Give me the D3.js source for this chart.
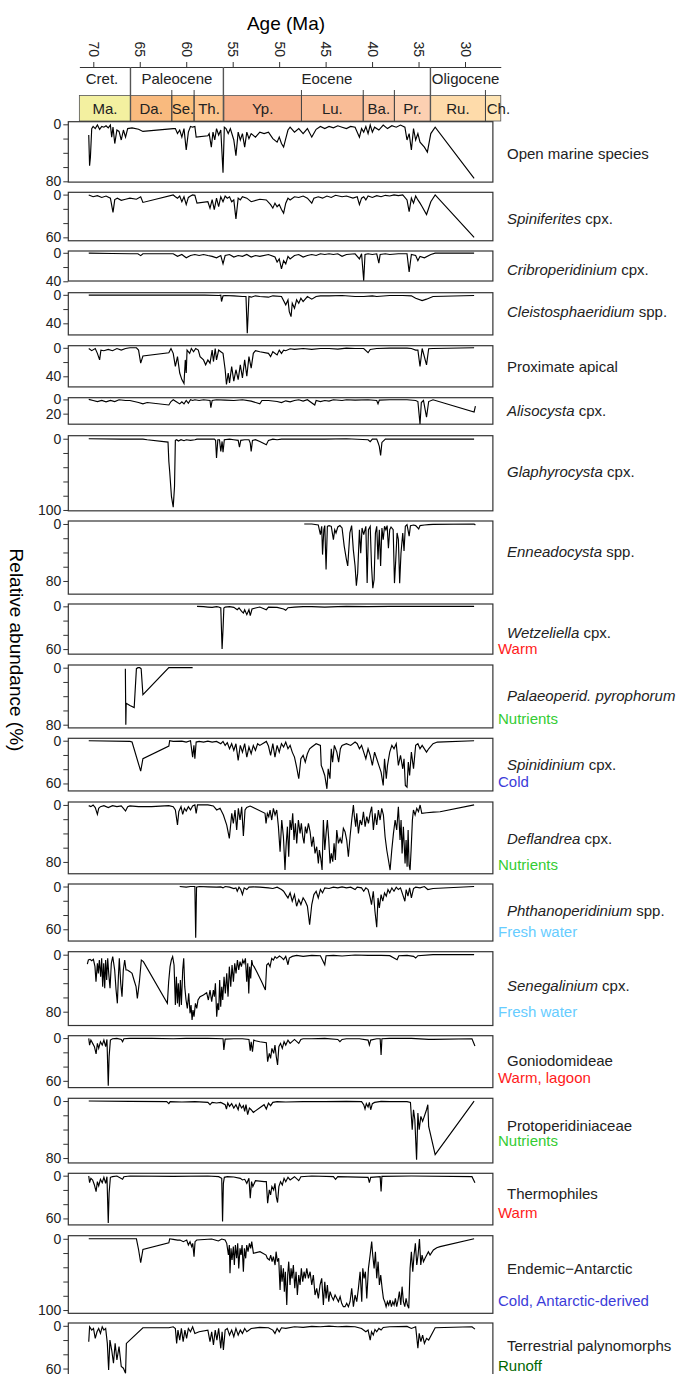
<!DOCTYPE html>
<html lang="en">
<head>
<meta charset="UTF-8">
<title>Dinocyst abundance</title>
<script src="https://cdn.jsdelivr.net/npm/d3@7"></script>
<style>
  body { margin: 0; background: #fff; }
  svg { font-family: "Liberation Sans", Arial, sans-serif; }
</style>
</head>
<body>
<script>
// ---- data: [age (Ma), relative abundance (%)] ----
var openMarine = [[70.49,15],[70.40,58],[70.31,46],[70.17,6],[70.02,3],[69.79,6],[69.56,1],[69.32,7],[69.09,3],[68.86,4],[68.63,2],[68.39,5],[68.16,1],[68.02,18],[67.88,4],[67.69,27],[67.46,8],[67.23,10],[66.99,22],[66.76,8],[66.53,18],[66.30,6],[65.83,5],[65.13,7],[64.66,10],[61.40,6],[61.17,6],[60.94,13],[60.70,8],[60.47,18],[60.24,6],[60.00,36],[59.77,11],[59.54,3],[59.31,4],[59.07,3],[58.93,18],[57.67,16],[57.53,13],[57.30,32],[57.12,11],[56.93,22],[56.74,6],[56.51,15],[56.28,8],[56.04,68],[55.90,4],[55.72,6],[55.48,13],[55.25,6],[54.88,22],[54.65,44],[54.41,11],[54.18,22],[53.95,13],[53.71,32],[53.48,11],[53.25,20],[53.01,13],[52.55,18],[52.08,11],[51.62,13],[51.15,11],[50.68,20],[50.22,25],[49.99,18],[49.75,27],[49.52,32],[49.29,20],[49.05,8],[48.82,4],[48.35,11],[47.89,6],[47.42,13],[46.96,6],[46.49,18],[46.02,7],[45.56,3],[45.09,6],[44.63,3],[44.16,5],[43.69,2],[43.23,4],[42.76,6],[42.30,3],[41.83,4],[41.36,18],[41.13,6],[40.90,11],[40.67,3],[40.43,13],[40.20,1],[39.97,11],[39.73,4],[39.27,8],[38.80,1],[38.34,6],[37.87,2],[37.40,4],[36.94,1],[36.47,4],[36.24,22],[36.01,13],[35.77,36],[35.54,6],[35.31,22],[35.07,13],[34.84,25],[34.37,32],[34.05,39],[33.68,13],[33.21,4],[29.02,76]];

var spiniferites = [[70.49,0.5],[70.02,3],[69.56,1.5],[69.09,4],[68.63,2],[68.16,5],[67.88,25],[67.69,7],[67.41,5],[66.99,8],[66.53,6.5],[66.06,5],[65.36,6.5],[64.90,3],[64.66,11],[61.40,0.5],[61.17,3],[60.94,5],[60.70,2],[60.47,10],[60.24,3],[60.00,14],[59.77,4],[59.54,2],[59.31,0.5],[59.07,1],[58.84,12],[57.67,10],[57.44,19],[57.21,7],[56.98,21],[56.74,5],[56.51,17],[56.28,3],[56.04,10],[55.81,2],[55.58,5],[55.34,3],[55.11,10],[54.88,7.5],[54.65,34],[54.41,5],[54.18,7.5],[53.95,3],[53.48,5],[53.01,10],[52.08,6.5],[51.38,7.5],[50.92,14],[50.68,19],[50.45,12],[50.22,17],[49.99,14],[49.75,21],[49.52,26],[49.29,12],[49.05,5],[48.82,7.5],[48.35,3],[47.89,4],[47.42,2],[46.96,5],[46.49,12],[46.26,5],[45.79,3],[45.33,5],[44.86,2],[44.39,4],[43.93,1],[43.23,3],[42.76,2],[42.06,5],[41.60,3],[41.36,14],[41.13,5],[40.90,3],[40.67,7.5],[40.43,2],[39.97,4],[39.50,1.5],[39.03,3],[38.57,1],[38.10,2],[37.64,0.5],[37.17,1.5],[36.70,0.5],[36.24,7.5],[36.01,24],[35.77,5],[35.54,12],[35.31,2],[35.07,7.5],[34.84,12],[34.61,17],[34.14,28],[33.68,10],[33.21,0.5],[29.02,60]];

var cribroperidinium = [[70.49,0.5],[68.0,1],[66.0,1.4],[65.2,1.4],[64.90,4],[64.66,1.4],[61.40,1.4],[60.94,5],[60.47,2.4],[60.00,7],[59.54,3.8],[59.07,2.4],[58.61,3.8],[58.14,2.4],[57.67,3.8],[57.21,5],[56.74,7],[56.28,3.8],[56.04,15.5],[55.81,3.8],[55.34,2.4],[54.88,6],[54.41,3.8],[53.95,5],[53.48,2.4],[53.01,6],[52.55,3.8],[52.08,5],[51.15,2.4],[50.45,6],[50.22,13],[49.99,8.5],[49.75,22.5],[49.52,11],[49.29,15.5],[49.05,5],[48.82,8.5],[48.35,3.8],[47.89,2.4],[47.42,6],[46.96,3.8],[46.49,2.4],[46.02,3.8],[45.56,1.4],[45.09,2.4],[44.63,1.4],[44.16,2.4],[43.69,1.4],[43.23,5],[42.76,2.4],[41.83,1.4],[41.36,8.5],[41.13,1.4],[40.90,39],[40.76,2.4],[40.43,1.4],[39.97,2.4],[39.50,1.4],[39.27,14.5],[39.13,2.4],[38.57,1.4],[38.10,2.4],[37.17,1.4],[36.24,1.4],[36.01,27],[35.77,2.4],[35.31,3.8],[35.07,11],[34.84,5],[34.37,7],[33.68,2.4],[33.21,0.5],[29.02,0.5]];

var cleistosphaeridium = [[70.49,0.5],[65.0,0.5],[61.4,0.5],[58.0,0.5],[56.5,1],[56.28,0.5],[56.20,9.4],[56.04,1.4],[55.81,1],[54.88,1.4],[53.95,2.4],[53.57,2.4],[53.43,54],[53.25,2.4],[53.01,3.3],[52.55,1.4],[52.08,2.4],[51.15,3.3],[50.68,1.4],[49.75,2.4],[49.29,14],[49.05,7],[48.91,23.5],[48.72,30.6],[48.59,11.8],[48.35,18.8],[48.12,7],[47.89,11.8],[47.66,4.7],[47.42,9.4],[46.96,2.4],[46.49,6.1],[46.02,2.4],[45.56,1.4],[44.63,1.4],[43.23,1],[41.83,2.4],[40.90,2.4],[39.97,1.4],[39.50,2.4],[38.10,1],[36.70,1],[35.77,1.4],[35.31,4.7],[34.61,8],[34.14,6.1],[33.44,2.4],[29.02,1]];

var proximateApical = [[70.49,1],[70.17,4],[69.79,1],[69.56,7.8],[69.32,17],[69.18,3.2],[68.86,4.1],[68.39,2.3],[67.93,4.1],[67.46,1],[66.99,3.2],[66.53,1],[66.06,0],[65.36,0],[65.13,3.2],[64.90,21.6],[64.66,11.5],[61.87,6.9],[61.64,1],[61.40,7.8],[61.17,26.2],[60.94,12.4],[60.70,35.4],[60.47,44.6],[60.24,50.1],[60.10,17],[60.00,35.4],[59.91,3.2],[59.63,7.8],[59.45,1],[59.21,5.5],[58.98,1],[58.70,3.2],[58.51,12.4],[58.14,17],[57.91,23.9],[57.67,17],[57.44,21.6],[57.21,3.2],[57.07,19.3],[56.88,1],[56.74,17],[56.51,3.2],[56.28,5.5],[56.04,7.8],[55.81,30.8],[55.67,51.5],[55.48,35.4],[55.34,49.2],[55.11,26.2],[54.88,46.9],[54.65,30.8],[54.41,44.6],[54.18,23.9],[53.95,42.3],[53.71,17],[53.48,40],[53.25,12.4],[53.01,28.5],[52.78,7.8],[52.55,4.1],[52.08,5.5],[51.15,7.8],[50.92,12.4],[50.68,5.5],[50.22,10],[49.99,3.2],[49.75,7.8],[49.52,3.2],[49.29,4.1],[48.82,1.4],[48.35,2.3],[47.42,1],[46.49,2.3],[45.56,1],[44.63,1],[43.69,1.8],[42.76,0.5],[41.83,1],[40.90,1],[40.43,6.9],[40.20,2.3],[39.50,1],[38.10,0.5],[36.24,0.5],[35.77,1],[35.31,3.2],[35.07,3.2],[34.84,26.2],[34.61,1],[34.14,23.9],[33.91,1.4],[33.44,1],[29.02,0]];

var alisocysta = [[70.49,0],[70.02,1.5],[69.56,3],[69.09,1.5],[68.63,3.4],[68.16,1.5],[67.69,3],[67.23,0.5],[66.53,1.5],[66.06,1.5],[65.60,3],[65.13,4.4],[64.66,6.3],[64.20,4.4],[61.87,7.8],[61.64,3],[61.40,0.5],[60.94,4.4],[60.70,6.3],[60.47,3.4],[60.24,6.3],[60.00,1.5],[59.77,5.4],[59.54,0.5],[59.31,1.5],[59.07,0.5],[58.61,1.5],[58.14,0.5],[57.44,1.5],[57.35,11.7],[57.21,1.5],[56.74,0.5],[55.81,1],[54.88,1.5],[53.95,0.5],[53.01,2.4],[52.08,6.3],[51.85,1.5],[51.15,1.5],[50.22,3],[49.75,4.4],[49.29,2],[48.82,3.4],[48.35,1.5],[47.89,0.5],[47.42,2.4],[46.96,0.5],[46.17,7.8],[46.02,1.5],[45.56,3],[45.09,1.5],[44.63,2.4],[44.16,0.5],[43.23,1.5],[42.76,0.5],[41.83,1],[40.43,0.5],[39.50,1.5],[39.36,6.3],[39.22,1],[38.10,0.5],[36.24,0.5],[35.31,1.5],[35.07,3],[34.84,34.6],[34.70,4.4],[34.47,1.5],[34.14,25],[33.91,3],[33.44,0.5],[29.02,17.6],[28.88,9.3]];

var glaphyrocysta = [[70.49,0],[67.0,0.5],[64.66,0.5],[64.20,1.4],[61.96,4.7],[61.87,32],[61.78,46],[61.59,81],[61.40,96],[61.26,67],[61.17,2.3],[61.03,1.4],[60.84,3.3],[60.56,1.4],[60.24,2.8],[60.00,1.4],[59.54,2.3],[59.07,1.4],[58.84,0.5],[58.14,0.5],[57.67,0.5],[56.98,0.5],[56.84,2.3],[56.74,27],[56.60,1.4],[56.42,1.4],[56.28,18],[56.14,3.8],[56.04,19],[55.90,1.4],[55.34,0.5],[54.88,1.4],[54.41,2.3],[54.27,11.7],[54.13,2.3],[53.71,1.4],[53.25,1.4],[53.11,6.1],[53.01,18],[52.87,2.3],[52.55,1.4],[52.08,3.8],[51.38,8.5],[51.15,2.3],[50.68,0.5],[50.22,1.4],[49.75,0.5],[47.42,0.5],[45.09,0.5],[42.76,0],[40.43,1.4],[40.20,4.2],[39.97,0.5],[39.50,0.5],[39.36,5.2],[39.22,10.8],[39.08,23.5],[38.94,5.2],[38.57,0.5],[36.24,0.5],[33.44,0.5],[29.02,0.5]];

var enneadocysta = [[47.30,0],[46.49,0],[45.79,1.4],[45.56,15],[45.42,3.3],[45.33,43],[45.19,8],[45.09,2.3],[44.95,64],[44.81,3.3],[44.63,2.3],[44.39,3.3],[44.16,22],[44.02,8],[43.88,12.6],[43.69,4.2],[43.46,2.3],[43.23,5.6],[43.00,31],[42.76,50],[42.62,59],[42.39,12.6],[42.20,2.3],[42.02,36],[41.83,59],[41.69,86.5],[41.55,69],[41.36,8],[41.22,41],[41.08,5.6],[40.90,15],[40.67,3.3],[40.53,83],[40.39,8],[40.20,3.3],[40.06,59],[39.92,90],[39.78,78],[39.64,12.6],[39.50,3.3],[39.36,50],[39.22,8],[39.08,59],[38.94,5.6],[38.80,22],[38.66,3.3],[38.52,8],[38.38,2.3],[38.24,34],[38.10,8],[37.96,4.2],[37.73,8],[37.59,83],[37.45,50],[37.31,12.6],[37.17,22],[37.03,83],[36.89,41],[36.70,12.6],[36.56,38],[36.42,3.3],[36.24,1],[36.01,17],[35.87,2.3],[35.54,1.4],[35.31,2.3],[34.98,7],[34.84,2.3],[34.37,1.4],[33.91,1],[33.44,0.5],[29.02,0],[28.88,1.4]];

var wetzeliella = [[58.84,0],[58.14,0.5],[57.67,1],[57.21,1.4],[56.74,0.5],[56.51,1],[56.28,2.3],[56.14,60],[56.04,32.6],[55.95,2.3],[55.81,1],[55.34,0.5],[54.88,1.4],[54.51,4.7],[54.32,2.3],[54.04,7],[53.85,9.3],[53.71,4.7],[53.48,11.6],[53.25,4.7],[53.11,13],[52.92,3.7],[52.55,2.3],[52.08,1],[51.38,4.7],[51.15,1],[50.22,1.4],[49.52,3.7],[49.29,5.6],[49.05,1.9],[48.35,1],[47.42,0.5],[46.49,0.5],[45.09,1],[43.69,0.5],[42.76,0],[40.43,0.5],[38.10,0],[33.44,0],[29.02,0]];

var palaeoperidinium = [[66.55,1.4],[66.50,80],[66.46,50],[66.06,53],[65.60,56],[65.36,1.4],[65.20,0],[65.00,0],[64.85,1.4],[64.66,38],[61.87,0],[61.40,0],[59.31,0]];

var spinidinium = [[70.49,0],[66.06,1],[65.83,1.9],[64.90,42.7],[64.66,25.3],[61.87,7.5],[61.78,0],[61.40,1],[60.47,0.5],[60.00,1.9],[59.54,0],[59.31,23],[59.17,6.6],[59.07,25.3],[58.93,1.9],[58.61,1],[58.14,1.9],[57.67,0.5],[57.21,1.9],[56.74,1],[56.28,4.2],[56.04,1],[55.81,6.6],[55.58,2.8],[55.34,11.3],[55.11,4.2],[54.88,13.6],[54.65,4.2],[54.41,27.7],[54.18,6.6],[53.95,16],[53.71,4.2],[53.48,23],[53.25,8.9],[53.01,18.3],[52.78,6.6],[52.55,13.6],[52.32,4.2],[52.08,6.6],[51.38,1],[51.15,7.5],[50.92,20.6],[50.68,4.2],[50.45,23],[50.22,6.6],[49.99,16],[49.75,4.2],[49.52,8.9],[49.29,1.9],[49.05,11.3],[48.82,6.6],[48.59,16],[48.35,23],[48.12,37],[47.89,53.4],[47.66,25.3],[47.42,20.6],[47.19,30],[46.96,18.3],[46.72,11.3],[46.49,8.9],[46.02,4.2],[45.56,6.6],[45.47,34.7],[45.33,39.4],[45.09,48.8],[44.86,67.5],[44.72,39.4],[44.53,53.4],[44.39,11.3],[44.25,30],[44.06,6.6],[43.79,16],[43.60,30],[43.41,11.3],[43.23,6.6],[42.76,4.2],[42.30,6.6],[41.83,1.9],[41.60,4.2],[41.36,11.3],[41.13,6.6],[40.90,16],[40.67,25.3],[40.43,11.3],[40.20,20.6],[39.97,34.7],[39.73,16],[39.50,25.3],[39.27,34.7],[39.03,44],[38.80,62.8],[38.66,25.3],[38.47,53.4],[38.34,34.7],[38.10,16],[37.87,6.6],[37.64,11.3],[37.40,4.2],[37.17,34.7],[36.94,20.6],[36.70,39.4],[36.56,25.3],[36.42,62.8],[36.24,65.2],[36.10,30],[35.96,48.8],[35.77,16],[35.54,39.4],[35.31,6.6],[35.07,4.2],[34.84,11.3],[34.61,6.6],[34.14,16],[33.91,11.3],[33.44,4.2],[32.98,1.9],[29.02,0]];

var deflandrea = [[70.49,1],[70.26,2.4],[70.02,0],[69.79,3.8],[69.56,13.2],[69.42,4.7],[69.23,2.4],[68.86,1],[68.39,3.8],[67.93,1],[67.46,2.4],[66.99,1.4],[66.76,4.7],[66.53,8.5],[66.30,2.4],[66.06,1.4],[65.13,2.4],[63.73,2.4],[61.87,1],[61.40,2.4],[61.17,7],[60.94,28.2],[60.80,9.4],[60.56,2.4],[60.38,13.2],[60.19,4.7],[60.00,8.5],[59.77,2.4],[59.54,7],[59.31,1.4],[59.07,0],[58.93,11.8],[58.79,0],[58.37,0],[57.67,0],[57.08,1.5],[56.72,7.1],[56.36,4.8],[56.0,14.2],[55.64,28.2],[55.36,46.9],[55.1,11.8],[54.93,25.9],[54.75,7.1],[54.57,35.2],[54.39,4.8],[54.21,21.2],[54.03,2.5],[53.85,43.6],[53.67,7.1],[53.49,3.4],[53.13,1.5],[52.95,2.5],[51.52,11.8],[51.41,25.9],[51.27,11.8],[51.12,16.5],[50.98,7.1],[50.8,21.2],[50.62,4.8],[50.44,14.2],[50.26,7.1],[50.08,30.5],[49.9,65.6],[49.72,21.2],[49.54,44.6],[49.37,91.4],[49.26,58.6],[49.11,30.5],[48.97,72.7],[48.83,21.2],[48.68,35.2],[48.54,11.8],[48.4,49.3],[48.25,25.9],[48.11,54],[47.93,21.2],[47.75,39.9],[47.61,25.9],[47.46,44.6],[47.32,54],[47.18,30.5],[47.03,39.9],[46.85,25.9],[46.67,37.6],[46.49,58.6],[46.32,44.6],[46.14,68],[45.96,58.6],[45.78,82],[45.67,63.3],[45.52,75],[45.38,91.4],[45.24,21.2],[45.09,63.3],[44.95,39.9],[44.81,21.2],[44.66,49.3],[44.52,82],[44.38,68],[44.23,79.7],[44.09,54],[43.95,77.3],[43.8,35.2],[43.62,54],[43.44,46.9],[43.27,54],[43.09,32.9],[42.91,37.6],[42.73,49.3],[42.55,72.7],[42.37,44.6],[42.19,21.2],[42.01,0.1],[41.9,16.5],[41.76,30.5],[41.65,11.8],[41.47,39.9],[41.29,21.2],[41.11,28.2],[40.93,9.5],[40.75,30.5],[40.57,16.5],[40.39,25.9],[40.21,11.8],[40.04,2.5],[39.86,35.2],[39.68,11.8],[39.5,28.2],[39.32,7.1],[39.14,21.2],[38.96,4.8],[38.78,14.2],[38.6,44.6],[38.42,63.3],[38.24,77.3],[38.06,91.4],[37.88,63.3],[37.7,39.9],[37.52,21.2],[37.35,35.2],[37.17,2.5],[36.99,49.3],[36.88,21.2],[36.77,68],[36.63,30.5],[36.45,82],[36.34,49.3],[36.23,86.7],[36.12,35.2],[36.02,84.4],[35.91,91.4],[35.8,63.3],[35.66,21.2],[35.55,7.1],[35.37,14.2],[35.19,4.8],[35.01,9.5],[34.83,0.1],[34.65,11.8],[34.12,10.9],[33.4,10],[32.68,9.5],[29.02,0]];

var phthanoperidinium = [[60.70,0],[60.00,0.9],[59.54,0],[59.07,0],[58.98,72],[58.89,0.9],[58.61,0],[57.67,0.5],[56.74,0.9],[56.28,0.5],[56.04,1.9],[55.81,0],[55.34,0.9],[54.88,2.8],[54.65,1.9],[54.51,6.6],[54.32,0.9],[54.13,4.2],[53.95,11.3],[53.76,1.9],[53.48,4.2],[53.25,0.9],[52.78,0.5],[52.08,0.9],[51.15,1.9],[50.68,2.8],[50.22,0.9],[49.75,4.2],[49.52,6.6],[49.29,11.3],[49.05,16],[48.82,8.9],[48.59,20.6],[48.35,11.3],[48.12,27.7],[47.89,18.3],[47.66,25.3],[47.42,16],[47.19,20.6],[46.96,27.7],[46.72,53.4],[46.49,25.3],[46.26,11.3],[46.02,6.6],[45.79,16],[45.56,4.2],[45.33,8.9],[45.09,1.9],[44.63,2.8],[44.16,0.9],[43.69,1.9],[43.23,0.5],[42.76,1.9],[42.30,0.9],[41.83,4.2],[41.60,0.9],[41.13,1.9],[40.90,6.6],[40.67,1.9],[40.43,4.2],[40.20,16],[40.06,25.3],[39.87,6.6],[39.69,34.7],[39.50,57.2],[39.36,16],[39.22,30],[39.03,11.3],[38.85,20.6],[38.66,8.9],[38.47,13.6],[38.29,4.2],[38.10,8.9],[37.87,1.9],[37.64,6.6],[37.40,0.9],[37.17,4.2],[36.94,1.9],[36.70,11.3],[36.47,20.6],[36.33,4.2],[36.14,13.6],[35.96,1.9],[35.77,16],[35.54,2.8],[35.31,0.9],[34.84,1.9],[34.37,0],[34.00,4.2],[33.44,2.8],[29.02,0]];

var senegalinium = [[70.64,13.1],[70.53,7.5],[70.35,6.5],[70.17,8.4],[69.99,6.5],[69.82,16.8],[69.71,37.9],[69.56,12.1],[69.46,26.2],[69.35,7.5],[69.21,30.9],[69.1,5.1],[68.99,44.9],[68.88,12.1],[68.77,47.2],[68.67,7.5],[68.56,35.5],[68.45,5.1],[68.34,26.2],[68.2,47.2],[68.06,12.1],[67.91,2.8],[67.7,21.5],[67.55,49.6],[67.41,68.3],[67.3,30.9],[67.2,5.1],[67.05,40.2],[66.91,58.9],[66.77,21.5],[66.62,7.5],[66.48,21.5],[66.33,21.5],[66.05,23.8],[65.83,26.2],[65.62,35.5],[65.4,44.9],[65.26,61.3],[65.04,37.9],[64.83,7.5],[64.61,9.8],[62.03,68.3],[61.89,37.9],[61.74,16.8],[61.6,7.5],[61.46,2.8],[61.31,14.5],[61.17,70.6],[61.06,30.9],[60.95,68.3],[60.85,40.2],[60.74,73],[60.63,35.5],[60.52,70.6],[60.38,21.5],[60.27,5.1],[60.16,44.9],[60.02,63.6],[59.88,75.3],[59.73,54.3],[59.59,82.3],[59.48,70.6],[59.37,91.7],[59.27,77.7],[59.16,87],[59.01,68.3],[58.87,75.3],[58.73,63.6],[58.51,58.9],[58.15,56.6],[57.8,53.3],[57.62,63.6],[57.44,49.6],[57.26,66],[57.08,49.6],[56.97,58.9],[56.86,40.2],[56.72,87],[56.61,68.3],[56.5,77.7],[56.4,35.5],[56.29,73],[56.18,44.9],[56.07,63.6],[55.93,30.9],[55.79,54.3],[55.64,26.2],[55.5,58.9],[55.36,16.8],[55.21,44.9],[55.07,14.5],[54.92,37.9],[54.78,12.1],[54.64,26.2],[54.49,7.5],[54.35,21.5],[54.21,9.8],[54.06,16.8],[53.92,7.5],[53.78,12.1],[53.63,5.1],[53.49,37.9],[53.38,12.1],[53.27,54.3],[53.17,16.8],[53.06,33.2],[52.95,7.5],[52.84,14.5],[52.7,16.8],[52.41,23.8],[51.88,37.9],[51.48,49.6],[51.34,14.5],[51.16,12.1],[50.98,16.8],[50.8,5.1],[50.62,7.5],[50.44,2.8],[50.26,5.1],[49.97,1.8],[49.75,3.8],[49.52,7],[49.29,2.4],[49.05,14.1],[48.91,4.7],[48.59,2.4],[48.12,0.9],[47.42,2.4],[46.49,0.9],[45.56,1.4],[45.09,14.1],[44.95,1.4],[44.16,0.9],[43.23,1.9],[41.83,0.5],[40.43,0.9],[39.03,0.9],[38.10,1.4],[37.31,7],[37.12,1.4],[36.24,0.9],[35.54,2.4],[35.31,4.7],[35.07,1.4],[33.44,0],[29.02,0]];

var goniodomideae = [[70.49,0.5],[70.40,9.8],[70.26,2.8],[70.07,7.4],[69.88,12.1],[69.70,22.3],[69.56,7.4],[69.42,14.4],[69.23,5.1],[69.04,9.8],[68.86,2.8],[68.67,12.1],[68.53,1.9],[68.39,67],[68.30,26],[68.16,2.8],[67.93,0.9],[67.46,0.5],[66.99,1.9],[66.85,5.1],[66.71,0.9],[66.06,0.5],[63.73,0.5],[61.40,0.9],[60.00,0.5],[57.67,0.5],[56.04,0.9],[55.95,16.7],[55.81,1.4],[54.88,0.9],[53.95,0.9],[53.25,1.9],[53.11,17.7],[53.01,5.1],[52.87,19.1],[52.73,2.8],[52.55,3.7],[52.08,5.1],[51.38,6.5],[51.24,33],[51.06,21.4],[50.92,28.4],[50.78,14.4],[50.59,21.4],[50.45,9.8],[50.31,26],[50.17,37.7],[50.03,12.1],[49.85,7.4],[49.66,14.4],[49.47,5.1],[49.29,9.8],[49.05,2.8],[48.82,7.4],[48.35,1.9],[47.89,7.4],[47.66,1.9],[47.42,0.9],[46.49,0.9],[45.09,0.5],[43.69,1.9],[43.46,5.1],[43.23,1.9],[42.76,0.9],[41.36,0.9],[40.43,2.8],[40.29,9.8],[40.15,2.8],[39.50,0.9],[39.13,0.9],[39.03,23.7],[38.94,0.9],[38.10,0.5],[35.77,0.5],[33.91,1.9],[33.44,1.9],[29.25,0.9],[28.93,11.2]];

var protoperidiniaceae = [[70.49,0],[66.06,0.5],[62.10,0.9],[61.87,3.7],[61.73,0.9],[60.47,1.4],[59.07,0.9],[57.67,1.9],[57.44,5.1],[57.21,1.9],[56.74,2.8],[56.28,1.9],[55.81,5.1],[55.67,11.2],[55.53,2.8],[55.34,7.5],[55.11,3.7],[54.88,9.8],[54.65,5.1],[54.41,12.2],[54.27,3.7],[54.04,9.8],[53.85,6.5],[53.71,14.5],[53.57,5.1],[53.39,19.2],[53.20,9.8],[53.01,12.2],[52.78,15.9],[51.62,5.1],[51.38,11.2],[51.15,2.8],[50.92,6.5],[50.68,1.9],[50.22,0.9],[49.29,1.4],[47.42,0.9],[45.09,0.9],[42.76,0.5],[41.13,0.9],[40.90,5.1],[40.76,11.2],[40.62,3.7],[40.43,8.4],[40.29,1.9],[40.15,12.2],[39.97,3.7],[39.73,1.9],[39.03,0.5],[38.10,0.9],[36.24,0.9],[35.87,1.9],[35.68,40.2],[35.54,12.2],[35.40,26.2],[35.21,82.3],[35.07,16.8],[34.93,40.2],[34.75,21.5],[34.56,28.5],[34.14,12.2],[34.00,5.1],[33.91,35.6],[33.21,75.3],[29.02,0]];

var thermophiles = [[70.49,0.5],[70.40,9.8],[70.26,3.7],[70.07,6],[69.88,13],[69.70,22.3],[69.56,8.4],[69.42,14.4],[69.23,5.1],[69.04,9.8],[68.86,2.3],[68.67,10.7],[68.53,1.4],[68.39,66.5],[68.30,24.7],[68.16,2.3],[67.93,1.4],[67.46,0.5],[66.85,5.1],[66.71,1.4],[66.06,0.5],[61.40,0.9],[57.67,0.5],[56.51,1.4],[56.18,3.7],[56.09,64.2],[56.00,10.7],[55.90,2.3],[55.58,1.4],[54.88,1.9],[54.18,3.7],[53.95,6],[53.71,5.1],[53.48,10.7],[53.25,3.7],[53.11,31.6],[52.97,8.4],[52.83,15.3],[52.55,7],[51.62,8.4],[51.38,8.4],[51.24,38.6],[51.06,20],[50.92,27],[50.78,15.3],[50.59,20],[50.45,10.7],[50.31,29.3],[50.17,37.7],[50.03,15.3],[49.85,8.4],[49.66,13],[49.47,3.7],[49.29,8.4],[49.05,2.3],[48.82,6],[48.35,1.4],[47.89,7],[47.66,1.4],[46.49,0.5],[44.16,1.4],[43.93,5.1],[43.69,1.4],[40.43,2.3],[40.29,9.8],[40.15,2.3],[39.13,1.4],[39.03,22.3],[38.94,0.9],[35.77,0.5],[29.25,1.4],[28.93,9.8]];

var endemicAntarctic = [[70.49,0],[66.06,0],[65.36,0],[65.13,15],[64.90,33.6],[64.66,15],[61.87,5.6],[61.78,0],[61.40,0.9],[60.94,1.9],[60.67,1.7],[60.31,4],[59.95,1.7],[59.77,8.7],[59.59,4],[59.41,11],[59.3,6.4],[59.16,25.1],[59.05,4],[58.87,1.7],[57.26,0.3],[56.9,1.7],[56.54,3.1],[56.18,0.3],[55.82,1.7],[55.64,6.4],[55.46,22.8],[55.36,8.7],[55.29,48.5],[55.18,13.4],[55.07,29.8],[54.93,11],[54.82,36.8],[54.71,8.7],[54.57,27.4],[54.46,6.4],[54.35,41.5],[54.21,13.4],[54.1,22.8],[53.99,8.7],[53.85,46.2],[53.74,13.4],[53.6,27.4],[53.49,8.7],[53.35,18.1],[53.2,6.4],[53.06,13.4],[52.95,4],[52.77,20.4],[52.06,18.1],[51.41,22.8],[51.27,27.4],[51.05,29.8],[50.91,22.8],[50.76,32.1],[50.62,25.1],[50.44,36.8],[50.33,18.1],[50.19,32.1],[50.05,27.4],[49.9,71.9],[49.8,36.8],[49.69,60.2],[49.54,41.5],[49.44,74.2],[49.33,46.2],[49.18,93],[49.08,50.8],[48.97,32.1],[48.83,64.9],[48.72,41.5],[48.61,55.5],[48.47,36.8],[48.32,69.5],[48.18,46.2],[48.04,78.9],[47.89,50.8],[47.75,64.9],[47.61,41.5],[47.46,60.2],[47.32,46.2],[47.18,55.5],[47.03,41.5],[46.85,55.5],[46.67,46.2],[46.49,64.9],[46.32,50.8],[46.14,78.9],[45.96,69.5],[45.78,83.6],[45.6,64.9],[45.42,55.5],[45.24,93],[45.09,60.2],[44.95,83.6],[44.81,64.9],[44.66,88.3],[44.52,74.2],[44.34,81.2],[44.16,85.9],[43.98,78.9],[43.8,83.6],[43.62,88.3],[43.44,81.2],[43.27,90.6],[43.09,95.3],[42.91,95.3],[42.73,90.6],[42.55,95.3],[42.37,88.3],[42.19,69.5],[42.01,95.3],[41.83,78.9],[41.65,88.3],[41.47,69.5],[41.29,46.2],[41.11,88.3],[41.0,41.5],[40.86,55.5],[40.72,46.2],[40.57,83.6],[40.39,41.5],[40.21,22.8],[40.04,4],[39.93,22.8],[39.78,41.5],[39.64,18.1],[39.5,55.5],[39.35,32.1],[39.21,64.9],[39.07,50.8],[38.92,69.5],[38.78,83.6],[38.64,88.3],[38.49,95.3],[38.35,88.3],[38.21,93],[38.06,85.9],[37.92,95.3],[37.77,88.3],[37.63,93],[37.49,83.6],[37.35,95.3],[37.2,85.9],[37.06,74.2],[36.91,93],[36.77,67.2],[36.63,88.3],[36.48,95.3],[36.34,83.6],[36.2,93],[36.05,97.6],[35.91,41.5],[35.77,18.1],[35.62,46.2],[35.48,22.8],[35.34,6.4],[35.19,36.8],[35.05,22.8],[34.9,0.3],[34.76,36.8],[34.62,22.8],[34.47,32.1],[34.3,27.4],[34.12,22.8],[33.94,18.1],[33.76,22.8],[33.4,15.7],[33.04,12.5],[32.68,11],[29.02,0]];

var terrestrial = [[70.49,22.3],[70.40,1.4],[70.17,6],[69.98,3.7],[69.79,17.7],[69.60,8.4],[69.42,3.7],[69.23,10.7],[69.04,1.4],[68.86,6],[68.67,3.7],[68.49,24.7],[68.35,62],[68.21,20],[68.02,34],[67.83,52.6],[67.65,24.7],[67.46,48],[67.23,29.3],[66.99,57.2],[66.76,59.5],[66.53,66.5],[66.44,24.7],[64.66,2.8],[61.87,2.8],[61.40,1.4],[61.17,3.7],[61.03,24.7],[60.89,6],[60.70,20],[60.52,3.7],[60.33,22.3],[60.14,6],[59.96,17.7],[59.77,3.7],[59.54,8.4],[59.31,1.4],[59.07,10.7],[58.61,8.4],[57.67,6],[57.44,22.3],[57.26,8.4],[57.07,27],[56.88,6],[56.70,20],[56.51,3.7],[56.28,31.6],[56.14,8.4],[56.00,34],[55.81,6],[55.58,3.7],[55.34,13],[55.11,6],[54.88,15.3],[54.65,3.7],[54.41,13],[54.18,6],[53.95,10.7],[53.71,3.7],[53.48,8.4],[53.01,3.7],[52.08,2.3],[51.15,2.8],[50.68,6],[50.45,10.7],[50.22,3.7],[49.99,8.4],[49.75,2.8],[49.29,3.7],[48.35,1.4],[47.42,2.3],[46.49,0.9],[45.56,1.4],[44.63,0.5],[43.69,1.4],[42.76,0.9],[41.83,1.4],[41.13,3.7],[40.67,8.4],[40.43,6],[40.20,20],[40.06,8.4],[39.87,13],[39.69,5.1],[39.50,8.4],[39.27,3.7],[39.03,6],[38.80,2.3],[38.10,1.4],[36.24,0.9],[35.77,3.7],[35.31,1.4],[35.07,31.6],[34.93,10.7],[34.75,22.3],[34.56,13],[34.37,24.7],[34.14,17.7],[33.91,20],[33.21,2.8],[29.25,1.4],[28.93,4.7]];

var seriesList = [openMarine, spiniferites, cribroperidinium, cleistosphaeridium, proximateApical, alisocysta, glaphyrocysta, enneadocysta, wetzeliella, palaeoperidinium, spinidinium, deflandrea, phthanoperidinium, senegalinium, goniodomideae, protoperidiniaceae, thermophiles, endemicAntarctic, terrestrial];

// label: [italic part, plain part]
var speciesNames = [["", "Open marine species"], ["Spiniferites", " cpx."], ["Cribroperidinium", " cpx."], ["Cleistosphaeridium", " spp."], ["", "Proximate apical"], ["Alisocysta", " cpx."], ["Glaphyrocysta", " cpx."], ["Enneadocysta", " spp."], ["Wetzeliella", " cpx."], ["Palaeoperid. pyrophorum", ""], ["Spinidinium", " cpx."], ["Deflandrea", " cpx."], ["Phthanoperidinium", " spp."], ["Senegalinium", " cpx."], ["", "Goniodomideae"], ["", "Protoperidiniaceae"], ["", "Thermophiles"], ["", "Endemic\u2212Antarctic"], ["", "Terrestrial palynomorphs"]];
var groupNames = ["", "", "", "", "", "", "", "", "Warm", "Nutrients", "Cold", "Nutrients", "Fresh water", "Fresh water", "Warm, lagoon", "Nutrients", "Warm", "Cold, Antarctic-derived", "Runoff"];
var groupColors = {"Warm": "#ff1a1a", "Warm, lagoon": "#ff1a1a", "Nutrients": "#33cc33", "Cold": "#3b3bd9", "Cold, Antarctic-derived": "#3b3bd9", "Fresh water": "#66ccff", "Runoff": "#006600"};

// y-axis extents (%) and top labelled tick of each panel
var panelMax = [81.1, 64.8, 39.6, 56.3, 54.9, 34.8, 101.2, 98.5, 67.1, 84.5, 70.5, 96.6, 76.5, 99.4, 69.5, 86.9, 69.1, 104.6, 90];
var tickMax = [80, 60, 40, 40, 40, 20, 100, 80, 60, 80, 60, 80, 60, 80, 60, 80, 60, 100, 60];

var ageTicks = [70, 65, 60, 55, 50, 45, 40, 35, 30];
var epochs = [["Cret.", 72.1, 66.0], ["Paleocene", 66.0, 56.0], ["Eocene", 56.0, 33.72], ["Oligocene", 33.72, 23.0]];
var stages = [["Ma.", 72.1, 66.0, "#f3f0a0"], ["Da.", 66.0, 61.55, "#f9ba7e"], ["Se.", 61.55, 59.15, "#fcc07c"], ["Th.", 59.15, 55.95, "#fdc58e"], ["Yp.", 55.95, 47.6, "#f7b08a"], ["Lu.", 47.6, 40.95, "#f9bc96"], ["Ba.", 40.95, 37.6, "#fac6a5"], ["Pr.", 37.6, 33.72, "#fcd0b2"], ["Ru.", 33.72, 27.8, "#fedbaa"], ["Ch.", 27.8, 23.0, "#fee4b4"]];

// ---- layout ----
var width = 677, height = 1374;
var panelTop = [121.7, 192.3, 251, 292.7, 345.7, 397.7, 435.7, 521, 604, 665, 738.3, 802, 884, 951.7, 1035.7, 1098.3, 1173.3, 1235.7, 1323];
var speciesY = [154, 219, 270, 312, 367, 411, 472, 552, 633, 696, 765, 839, 911, 986, 1060.5, 1126, 1194, 1269, 1346];
var groupY = [0, 0, 0, 0, 0, 0, 0, 0, 649, 719, 782, 865, 932, 1012, 1077.5, 1141, 1213, 1301, 1366];
var pxPerPct = 0.7125;
var ageMin = 26.15, ageMaxAxis = 71.5;

var x = d3.scaleLinear().domain([70, 30]).range([93.3, 465]);
var boxLeft = x(72.69), boxRight = x(27.0);

var svg = d3.select("body").append("svg")
    .attr("width", width)
    .attr("height", height);

// title
svg.append("text")
    .attr("x", 286).attr("y", 30)
    .attr("text-anchor", "middle")
    .style("font-size", "19px")
    .text("Age (Ma)");

// top age axis
var xa = d3.scaleLinear().domain([ageMaxAxis, ageMin]).range([x(ageMaxAxis), x(ageMin)]);
var topAxis = svg.append("g")
    .attr("transform", "translate(0,67)")
    .call(d3.axisTop(xa).tickValues(ageTicks).tickSize(5).tickSizeOuter(0).tickFormat(d3.format("d")));
topAxis.selectAll("text")
    .attr("transform", "rotate(90)")
    .attr("x", -10).attr("y", 0).attr("dy", "0.35em")
    .style("text-anchor", "end")
    .style("font-size", "14px")
    .attr("fill", "#222");
topAxis.selectAll("path,line").attr("stroke", "#333");

// stage boxes
var clipL = function(a) { return x(Math.min(a, ageMaxAxis)); };
var clipR = function(a) { return x(Math.max(a, ageMin)); };
svg.append("g").selectAll("rect")
    .data(stages).enter().append("rect")
    .attr("x", function(d) { return clipL(d[1]); })
    .attr("y", 95.5)
    .attr("width", function(d) { return clipR(d[2]) - clipL(d[1]); })
    .attr("height", 25.5)
    .attr("fill", function(d) { return d[3]; })
    .attr("stroke", "#555").attr("stroke-width", 0.8);
svg.append("g").selectAll("text")
    .data(stages).enter().append("text")
    .attr("x", function(d) { return d[0] == "Ch." ? clipL(d[1]) + 13 : (clipL(d[1]) + clipR(d[2])) / 2; })
    .attr("y", 113.5)
    .attr("text-anchor", "middle")
    .style("font-size", "15px").attr("fill", "#222")
    .text(function(d) { return d[0]; });

// stage ticks into epoch row
svg.append("g").selectAll("line")
    .data(stages.filter(function(d) { return [61.55, 59.15, 47.6, 40.95, 37.6, 27.8].indexOf(d[1]) >= 0; }))
    .enter().append("line")
    .attr("x1", function(d) { return x(d[1]); }).attr("x2", function(d) { return x(d[1]); })
    .attr("y1", 90).attr("y2", 121)
    .attr("stroke", "#444").attr("stroke-width", 1);

// epoch boundaries and names
svg.append("g").selectAll("line")
    .data(epochs.slice(1)).enter().append("line")
    .attr("x1", function(d) { return x(d[1]); }).attr("x2", function(d) { return x(d[1]); })
    .attr("y1", 67).attr("y2", 121)
    .attr("stroke", "#555").attr("stroke-width", 1.4);
svg.append("g").selectAll("text")
    .data(epochs).enter().append("text")
    .attr("x", function(d) { return d[0] == "Cret." ? 102 : (clipL(d[1]) + clipR(d[2])) / 2; })
    .attr("y", 84)
    .attr("text-anchor", "middle")
    .style("font-size", "15px").attr("fill", "#222")
    .text(function(d) { return d[0]; });

// y label
svg.append("text")
    .attr("transform", "translate(17,650) rotate(90)")
    .attr("text-anchor", "middle")
    .attr("dy", "0.35em")
    .style("font-size", "19px")
    .text("Relative abundance (%)");

// ---- panels ----
seriesList.forEach(function(data, i) {
    var top = panelTop[i];
    var pad = 1 + 0.02 * panelMax[i];
    var y = d3.scaleLinear()
        .domain([0, panelMax[i]])
        .range([top + pad, top + pad + panelMax[i] * pxPerPct]);
    var bottom = y(panelMax[i]);
    var g = svg.append("g");

    g.append("rect")
        .attr("x", boxLeft).attr("y", top)
        .attr("width", boxRight - boxLeft)
        .attr("height", bottom - top)
        .attr("fill", "none")
        .attr("stroke", "#333").attr("stroke-width", 1.2);

    var yAxis = d3.axisLeft(y)
        .tickValues(d3.range(0, tickMax[i] + 1, 20))
        .tickSize(5).tickSizeOuter(0)
        .tickFormat(function(d) { return (d === 0 || d === tickMax[i]) ? d : ""; });
    var ga = g.append("g")
        .attr("transform", "translate(" + boxLeft + ",0)")
        .call(yAxis);
    ga.select(".domain").remove();
    ga.selectAll("line").attr("stroke", "#333");
    ga.selectAll("text").style("font-size", "14px").attr("fill", "#222").attr("x", -7);

    var line = d3.line()
        .x(function(d) { return x(d[0]); })
        .y(function(d) { return y(d[1]); });
    g.append("path")
        .datum(data)
        .attr("d", line)
        .attr("fill", "none")
        .attr("stroke", "#000")
        .attr("stroke-width", 1.15)
        .attr("stroke-linejoin", "miter");

    var lab = g.append("text")
        .attr("x", 507).attr("y", speciesY[i] + 5)
        .style("font-size", "15px").attr("fill", "#222");
    if (speciesNames[i][0]) lab.append("tspan").style("font-style", "italic").text(speciesNames[i][0]);
    if (speciesNames[i][1]) lab.append("tspan").text(speciesNames[i][1]);

    if (groupNames[i]) {
        g.append("text")
            .attr("x", 498).attr("y", groupY[i] + 5)
            .style("font-size", "15px")
            .attr("fill", groupColors[groupNames[i]])
            .text(groupNames[i]);
    }
});
</script>
</body>
</html>
